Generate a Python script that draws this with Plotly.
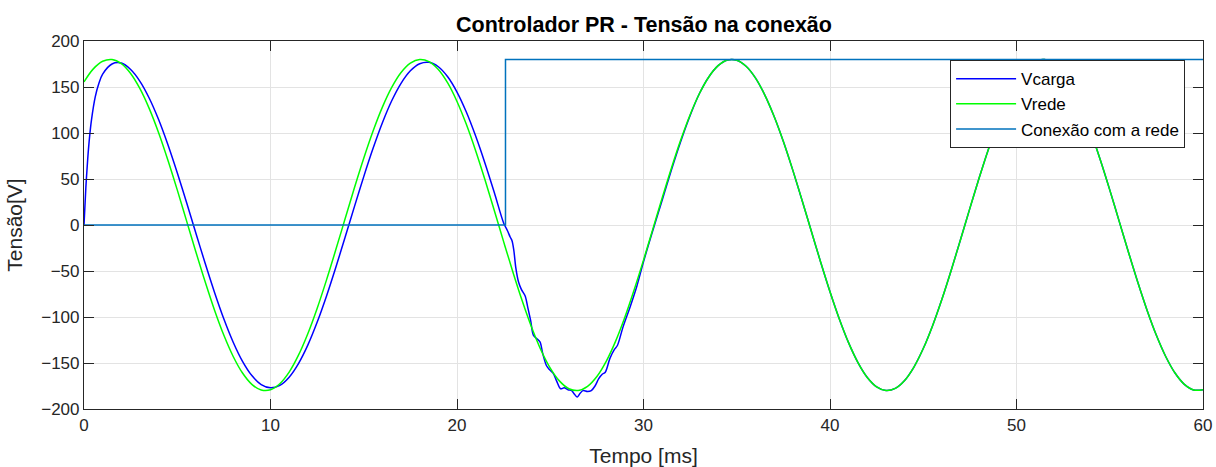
import plotly.graph_objects as go


def grid(start, stop, step):
    """Evenly spaced sample instants (ms), both ends included."""
    n = int(round((stop - start) / step)) + 1
    return [round(start + i * step, 3) for i in range(n)]


# Grid voltage Vrede, sampled every 0.5 ms
t_rede = grid(0, 60, 0.5)
v_rede = [155.5, 169.7, 178.0, 179.9, 175.4, 164.7, 148.2, 126.5, 100.3, 70.4,
          38.2, 4.5, -29.3, -62.0, -92.6, -119.9, -142.9, -160.9, -173.2, -179.3,
          -179.1, -172.5, -159.9, -141.5, -118.2, -90.7, -59.9, -27.0, 6.8, 40.4,
          72.5, 102.1, 128.1, 149.5, 165.7, 175.9, 179.9, 177.6, 169.0, 154.4,
          134.3, 109.4, 80.7, 49.1, 15.8, -18.1, -51.3, -82.7, -111.2, -135.8,
          -155.5, -169.7, -178.0, -179.9, -175.4, -164.7, -148.2, -126.5, -100.3, -70.4,
          -38.2, -4.5, 29.3, 62.0, 92.6, 119.9, 142.9, 160.9, 173.2, 179.3,
          179.1, 172.5, 159.9, 141.5, 118.2, 90.7, 59.9, 27.0, -6.8, -40.4,
          -72.5, -102.1, -128.1, -149.5, -165.7, -175.9, -179.9, -177.6, -169.0, -154.4,
          -134.3, -109.4, -80.7, -49.1, -15.8, 18.1, 51.3, 82.7, 111.2, 135.8,
          155.5, 169.7, 178.0, 179.9, 175.4, 164.7, 148.2, 126.5, 100.3, 70.4,
          38.2, 4.5, -29.3, -62.0, -92.6, -119.9, -142.9, -160.9, -173.2, -179.3,
          -179.1]

# Load voltage Vcarga: start-up transient
t_carga_inicio = [0, 0.1, 0.2, 0.3, 0.4, 0.6, 0.8, 1.0, 1.5, 2.0]
v_carga_inicio = [0, 41, 72, 96, 114, 139, 154, 164, 175, 176]

# islanded operation (slightly lagging the grid)
t_carga_ilhado = grid(2.5, 22.5, 0.5)
v_carga_ilhado = [169.0, 156.2, 137.8, 114.6, 87.2, 56.8, 24.4, -8.9, -41.9, -73.3,
                  -102.2, -127.4, -148.2, -163.7, -173.4, -177.0, -174.3, -165.4, -150.6, -130.6,
                  -105.8, -77.4, -46.2, -13.3, 20.0, 52.6, 83.3, 111.1, 135.0, 154.0,
                  167.6, 175.3, 176.8, 172.0, 161.1, 144.5, 122.8, 96.7, 67.2, 35.3,
                  2.2]

# reconnection transient
t_carga_trans = [22.7, 22.85, 22.95, 23.05, 23.15, 23.3, 23.45, 23.65, 23.8, 23.95,
                 24.1, 24.3, 24.45, 24.6, 24.8, 24.95, 25.15, 25.35, 25.55, 25.75,
                 25.95, 26.15, 26.3, 26.45, 26.6, 26.75, 27.0, 27.2, 27.4, 27.6,
                 27.8, 27.95, 28.2, 28.45, 28.6, 28.9, 29.3, 29.65, 30.0]
v_carga_trans = [-6, -13, -17, -28, -46, -62, -70, -77, -90, -104,
                 -120, -124, -127, -140, -153, -157, -161, -170, -178, -177,
                 -179, -180, -184, -187, -183, -180, -181, -180, -175, -167,
                 -162, -160, -145, -135, -131, -111, -88, -66, -40]

# synchronised with the grid
t_carga_sinc = grid(30.5, 60, 0.5)
v_carga_sinc = [-6, 27, 60, 91, 119, 142.9, 160.9, 173.2, 179.3, 179.1,
                172.5, 159.9, 141.5, 118.2, 90.7, 59.9, 27.0, -6.8, -40.4, -72.5,
                -102.1, -128.1, -149.5, -165.7, -175.9, -179.9, -177.6, -169.0, -154.4, -134.3,
                -109.4, -80.7, -49.1, -15.8, 18.1, 51.3, 82.7, 111.2, 135.8, 155.5,
                169.7, 178.0, 179.9, 175.4, 164.7, 148.2, 126.5, 100.3, 70.4, 38.2,
                4.5, -29.3, -62.0, -92.6, -119.9, -142.9, -160.9, -173.2, -179.3, -179.1]

t_carga = t_carga_inicio + t_carga_ilhado + t_carga_trans + t_carga_sinc
v_carga = v_carga_inicio + v_carga_ilhado + v_carga_trans + v_carga_sinc

# Grid connection signal (step at the reconnection instant)
t_conexao = [0, 22.6, 22.6, 60]
v_conexao = [0, 0, 180, 180]

x_ticks = [0, 10, 20, 30, 40, 50, 60]
y_ticks = [-200, -150, -100, -50, 0, 50, 100, 150, 200]

FONT = "Liberation Sans, Arial, Helvetica, sans-serif"
AX_COLOR = "#262626"
GRID = "#E3E3E3"

fig = go.Figure()
fig.add_trace(go.Scatter(x=t_carga, y=v_carga, name="Vcarga", mode="lines",
                         line=dict(color="#0000FF", width=1.5, shape="spline", smoothing=0.9)))
fig.add_trace(go.Scatter(x=t_rede, y=v_rede, name="Vrede", mode="lines",
                         line=dict(color="#00FF00", width=1.5, shape="spline", smoothing=1.0)))
fig.add_trace(go.Scatter(x=t_conexao, y=v_conexao, name="Conexão com a rede", mode="lines",
                         line=dict(color="#0072BD", width=1.5)))

axis_common = dict(
    showline=True, linecolor=AX_COLOR, linewidth=1.2, mirror="ticks",
    ticks="inside", ticklen=10, tickwidth=1.2, tickcolor=AX_COLOR,
    showgrid=True, gridcolor=GRID, gridwidth=1, zeroline=False,
    automargin=False,
    tickfont=dict(family=FONT, size=17, color=AX_COLOR),
)

fig.update_layout(
    width=1216, height=467,
    margin=dict(l=84, r=13, t=41, b=58),
    paper_bgcolor="white", plot_bgcolor="white",
    title=dict(text="<b>Controlador PR - Tensão na conexão</b>",
               font=dict(family=FONT, size=21.5, color="#000000"),
               x=0.5296, xanchor="center", y=0.948, yanchor="middle"),
    xaxis=dict(range=[0, 60], tickvals=x_ticks,
               title=dict(text="Tempo [ms]", font=dict(family=FONT, size=21, color=AX_COLOR), standoff=14),
               **axis_common),
    yaxis=dict(range=[-200, 200], tickvals=y_ticks,
               title=dict(text="Tensão[V]", font=dict(family=FONT, size=21, color=AX_COLOR), standoff=12),
               **axis_common),
    legend=dict(x=0.984, xanchor="right", y=0.948, yanchor="top",
                bgcolor="white", bordercolor=AX_COLOR, borderwidth=1,
                font=dict(family=FONT, size=17, color="#000000"),
                tracegroupgap=0, itemwidth=60),
    showlegend=True,
)

fig.write_html("out.html")
